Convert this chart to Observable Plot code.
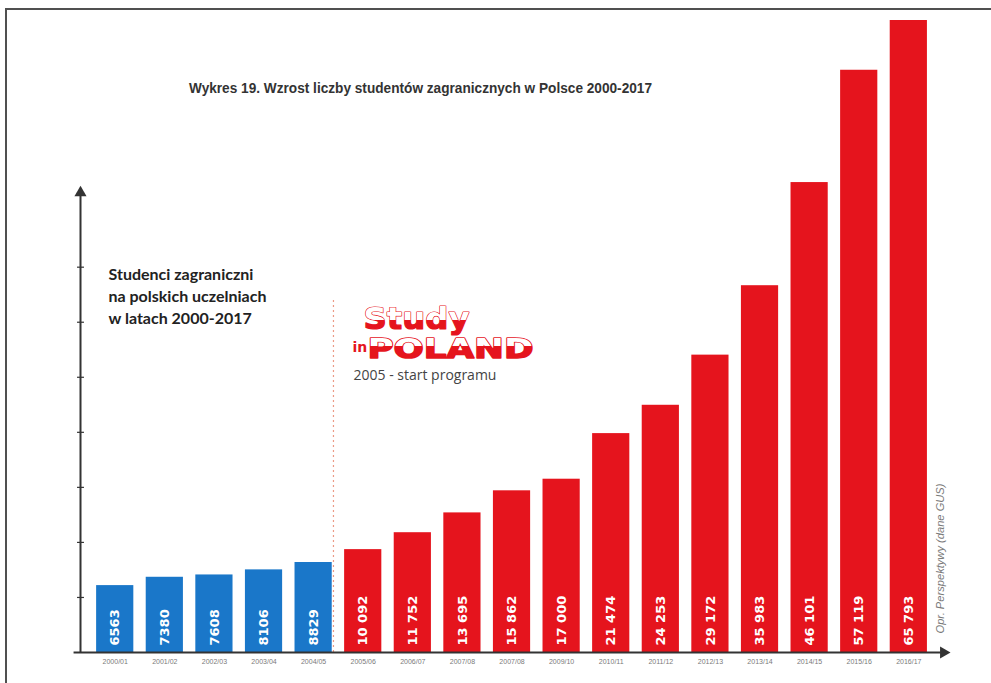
<!DOCTYPE html>
<html><head><meta charset="utf-8">
<script src="https://cdn.jsdelivr.net/npm/d3@7"></script>
<script src="https://cdn.jsdelivr.net/npm/@observablehq/plot@0.6"></script>
<style>
body{margin:0;background:#fff;}
#wrap{position:relative;width:991px;height:683px;overflow:hidden;}
#border{position:absolute;left:5px;top:8px;width:1000px;height:700px;border-top:2px solid #505050;border-left:2px solid #505050;pointer-events:none;}
</style></head><body><div id="wrap"><div id="border"></div></div>
<script>
// ---- data ----
const seasons = ["2000/01","2001/02","2002/03","2003/04","2004/05","2005/06","2006/07","2007/08","2007/08","2009/10","2010/11","2011/12","2012/13","2013/14","2014/15","2015/16","2016/17"];
const students = [6563, 7380, 7608, 8106, 8829, 10092, 11752, 13695, 15862, 17000, 21474, 24253, 29172, 35983, 46101, 57119, 65793];
const programmeStartIndex = 5; // "Study in POLAND" launched 2005
const yTicks = [5400, 10800, 16200, 21600, 27000, 32400, 37800];

const title = "Wykres 19. Wzrost liczby studentów zagranicznych w Polsce 2000-2017";
const yLabel = "Studenci zagraniczni\nna polskich uczelniach\nw latach 2000-2017";
const source = "Opr. Perspektywy (dane GUS)";
const logoTop = "Study", logoIn = "in", logoMain = "POLAND", logoNote = "2005 - start programu";

const blue = "#1a77c9", red = "#e5141d", axisColor = "#333";
const narrow = "'Liberation Sans Narrow', 'Liberation Sans', Arial, sans-serif";

const fmt = v => v >= 10000 ? d3.format(",")(v).replace(/,/g, " ") : String(v);
const data = seasons.map((s, i) => ({i, season: s, value: students[i], group: i < programmeStartIndex ? "before" : "programme", label: fmt(students[i])}));

const axisX0 = -0.7, axisXEnd = 16.8, yArrowTop = 45600;

const chart = Plot.plot({
  width: 991, height: 683,
  marginLeft: 80, marginRight: 43, marginTop: 20, marginBottom: 31,
  x: {domain: [axisX0, axisXEnd], axis: null},
  y: {domain: [0, 62000], clamp: true, axis: null},
  style: {background: "transparent", fontFamily: "DejaVu Sans"},
  marks: [
    // programme start line
    Plot.ruleX([programmeStartIndex - 0.6], {y1: 0, y2: 34700, stroke: "#eb9a86", strokeWidth: 1.2, strokeDasharray: "2,3"}),
    // bars
    Plot.rectY(data, {x1: d => d.i - 0.375, x2: d => d.i + 0.375, y: "value", fill: d => d.group === "before" ? blue : red}),
    // value labels
    Plot.text(data, {x: "i", y: 0, text: "label", rotate: -90, textAnchor: "start", dy: -7, fill: "white", fontWeight: "bold", fontSize: 13, fontFamily: "DejaVu Sans"}),
    // x tick labels
    Plot.text(data, {x: "i", y: 0, text: "season", dy: 9, fontSize: 7, fill: "#7a7a7a", fontFamily: narrow}),
    // axes
    Plot.link({length: 1}, {x1: -0.84, x2: 16.7, y1: 0, y2: 0, stroke: axisColor, strokeWidth: 2}),
    Plot.link({length: 1}, {x1: axisX0, x2: axisX0, y1: 0, y2: yArrowTop - 300, stroke: axisColor, strokeWidth: 2}),
    Plot.link(yTicks, {x1: axisX0 - 0.07, x2: axisX0 + 0.07, y1: d => d, y2: d => d, stroke: axisColor, strokeWidth: 1.2}),
    Plot.dot({length: 1}, {x: axisX0, y: yArrowTop - 500, symbol: "triangle", r: 4.5, fill: axisColor, stroke: "none"}),
    Plot.dot({length: 1}, {x: axisXEnd - 0.1, y: 0, symbol: "triangle", r: 4.5, fill: axisColor, stroke: "none", rotate: 90}),
    // title
    Plot.text([title], {frameAnchor: "top-left", dx: 340, dy: 68, lineAnchor: "middle", text: d => d, textAnchor: "middle", fontSize: 15, fontWeight: "bold", fill: "#333", fontFamily: narrow}),
    // y label
    Plot.text([yLabel], {frameAnchor: "top-left", dx: 28, dy: 244, text: d => d, textAnchor: "start", lineAnchor: "top", lineHeight: 1.38, fontSize: 16, fontWeight: "bold", fill: "#222", fontFamily: "Lato"}),
    // logo
    Plot.text([logoTop], {frameAnchor: "top-left", dx: 283, dy: 286, lineAnchor: "top", text: d => d, textAnchor: "start", fontSize: 31, fontWeight: "bold", fill: "url(#flagStudy)", stroke: red, strokeWidth: 1.2, fontFamily: "DejaVu Sans"}),
    Plot.text([logoIn], {frameAnchor: "top-left", dx: 272, dy: 322, lineAnchor: "top", text: d => d, textAnchor: "start", fontSize: 14, fontWeight: "bold", fill: red, fontFamily: "DejaVu Sans"}),
    Plot.text([logoMain], {frameAnchor: "top-left", dx: 287, dy: 318, lineAnchor: "top", text: d => d, textAnchor: "start", fontSize: 27, fontWeight: "bold", fill: "url(#flagPoland)", stroke: red, strokeWidth: 1.5, fontFamily: "DejaVu Sans"}),
    Plot.text([logoNote], {frameAnchor: "top-left", dx: 273, dy: 355, text: d => d, textAnchor: "start", lineAnchor: "middle", fontSize: 14, fill: "#444", fontFamily: "Open Sans"}),
    // source
    Plot.text([source], {frameAnchor: "bottom-right", dx: -5, dy: -19, text: d => d, rotate: -90, textAnchor: "start", fontSize: 11, fontStyle: "italic", fill: "#7a7a7a", fontFamily: narrow})
  ]
});

const svg = d3.select(chart);
svg.insert("defs", ":first-child").html(
  `<linearGradient id="flagStudy" x1="0" y1="0" x2="0" y2="1"><stop offset="0" stop-color="#fff"/><stop offset="0.56" stop-color="#fff"/><stop offset="0.56" stop-color="${red}"/><stop offset="1" stop-color="${red}"/></linearGradient>` +
  `<linearGradient id="flagPoland" x1="0" y1="0" x2="0" y2="1"><stop offset="0" stop-color="#fff"/><stop offset="0.42" stop-color="#fff"/><stop offset="0.42" stop-color="${red}"/><stop offset="1" stop-color="${red}"/></linearGradient>`
);
const fit = (txt, len) => svg.selectAll("text").filter(function() { return this.textContent === txt; }).attr("textLength", len).attr("lengthAdjust", "spacingAndGlyphs");
fit(logoTop, 106);
fit(logoMain, 166);
fit(title, 463);
fit(source, 150);
document.getElementById("wrap").prepend(chart);
</script>
</body></html>
